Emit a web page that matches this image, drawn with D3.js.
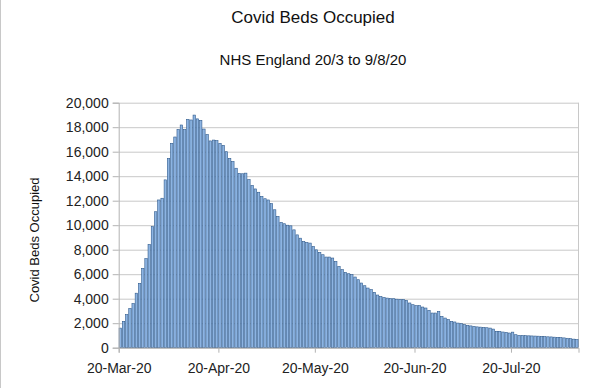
<!DOCTYPE html>
<html>
<head>
<meta charset="utf-8">
<script src="https://cdn.jsdelivr.net/npm/d3@7"></script>
<style>
  body { margin: 0; background: #fff; }
  svg { display: block; font-family: "Liberation Sans", Arial, sans-serif; }
  .axis path, .axis line { stroke: #b3b3b3; }
  .axis text { fill: #222; font-size: 14px; }
  .grid line { stroke: #c8c8c8; }
  .grid path { display: none; }
</style>
</head>
<body>
<div id="chart"></div>
<script>
// Covid beds occupied, NHS England, one value per day from 20 Mar 2020
var startDate = new Date(2020, 2, 20);
var bedsOccupied = [
  1600, 2150, 2700, 3200, 3600, 4450, 5250, 6480, 7270, 8430,
  9880, 11100, 12060, 12200, 13700, 15450, 16680, 17200, 17820, 18180,
  17800, 18640, 18590, 18990, 18680, 18560, 17850, 17400, 16880, 16950,
  16900, 16680, 16520, 16000, 15460, 15200, 14650, 14230, 14200, 14250,
  13720, 13240, 12960, 12690, 12350, 12160, 12060, 11760, 11260, 10720,
  10230, 10120, 10000, 9950, 9620, 9210, 8940, 8670, 8590, 8540,
  8260, 7990, 7780, 7590, 7400, 7400, 7320, 7040, 6640, 6370,
  6150, 6040, 5960, 5770, 5550, 5280, 5060, 4870, 4740, 4520,
  4300, 4180, 4100, 4050, 4010, 4000, 3960, 3950, 3930, 3860,
  3650, 3510, 3430, 3430, 3320, 3240, 3050, 2830, 2830, 2960,
  2560, 2420, 2290, 2150, 2100, 2010, 1960, 1880, 1820, 1780,
  1740, 1700, 1680, 1650, 1630, 1600, 1520, 1340, 1330, 1280,
  1250, 1200, 1270, 1060, 1010, 1000, 980, 970, 960, 950,
  940, 920, 900, 890, 880, 860, 840, 820, 800, 770,
  740, 700, 660
];
var tickDates = [
  new Date(2020, 2, 20), new Date(2020, 3, 20), new Date(2020, 4, 20),
  new Date(2020, 5, 20), new Date(2020, 6, 20)
];
var tickLabels = ["20-Mar-20", "20-Apr-20", "20-May-20", "20-Jun-20", "20-Jul-20"];
var yTicks = [0, 2000, 4000, 6000, 8000, 10000, 12000, 14000, 16000, 18000, 20000];

var chartTitle = "Covid Beds Occupied";
var chartSubtitle = "NHS England 20/3 to 9/8/20";
var yTitle = "Covid Beds Occupied";

function init() {
  var w = 598, h = 388;
  var left = 118.7, right = 578.5, top = 102.7, bottom = 347.7;

  var dataset = bedsOccupied.map(function(v, i) {
    return { date: d3.timeDay.offset(startDate, i), beds: v };
  });

  var svg = d3.select("#chart").append("svg")
      .attr("width", w)
      .attr("height", h);

  // thin frame on the left edge
  svg.append("line")
      .attr("x1", 0.5).attr("x2", 0.5)
      .attr("y1", 0).attr("y2", h)
      .attr("stroke", "#c8c8c8");

  var endDate = d3.timeDay.offset(startDate, bedsOccupied.length);
  var xScale = d3.scaleTime().domain([startDate, endDate]).range([left, right]);
  var yScale = d3.scaleLinear().domain([0, 20000]).range([bottom, top]);
  var step = (right - left) / bedsOccupied.length;

  // grid lines
  svg.append("g")
      .attr("class", "grid")
      .attr("transform", "translate(" + left + ",0)")
      .call(d3.axisLeft(yScale).tickValues(yTicks).tickSize(-(right - left)).tickFormat(""));

  // right border of plot
  svg.append("line")
      .attr("x1", right).attr("x2", right)
      .attr("y1", top).attr("y2", bottom)
      .attr("stroke", "#c8c8c8");

  // bars
  svg.selectAll("rect.bar")
    .data(dataset)
    .enter()
    .append("rect")
    .attr("class", "bar")
    .attr("x", function(d) { return xScale(d.date) + step * 0.12; })
    .attr("y", function(d) { return yScale(d.beds); })
    .attr("width", step * 0.76)
    .attr("height", function(d) { return bottom - yScale(d.beds); })
    .attr("fill", "#8db4e2")
    .attr("stroke", "#2f5a8c")
    .attr("stroke-width", 0.6);

  // axes
  svg.append("g")
      .attr("class", "axis")
      .attr("transform", "translate(" + left + ",0)")
      .call(d3.axisLeft(yScale).tickValues(yTicks).tickSize(6).tickPadding(4)
        .tickFormat(d3.format(",")));

  svg.append("g")
      .attr("class", "axis")
      .attr("transform", "translate(0," + bottom + ")")
      .call(d3.axisBottom(xScale).tickValues(tickDates).tickSize(5).tickPadding(10)
        .tickFormat(function(d, i) { return tickLabels[i]; }));

  // titles
  svg.append("text")
      .attr("x", 313).attr("y", 23)
      .attr("text-anchor", "middle")
      .style("font-size", "17px").style("fill", "#111")
      .text(chartTitle);

  svg.append("text")
      .attr("x", 313).attr("y", 65)
      .attr("text-anchor", "middle")
      .style("font-size", "15px").style("fill", "#111")
      .text(chartSubtitle);

  svg.append("text")
      .attr("transform", "translate(39,240) rotate(-90)")
      .attr("text-anchor", "middle")
      .style("font-size", "13px").style("fill", "#111")
      .text(yTitle);
}

window.onload = init;
</script>
</body>
</html>
